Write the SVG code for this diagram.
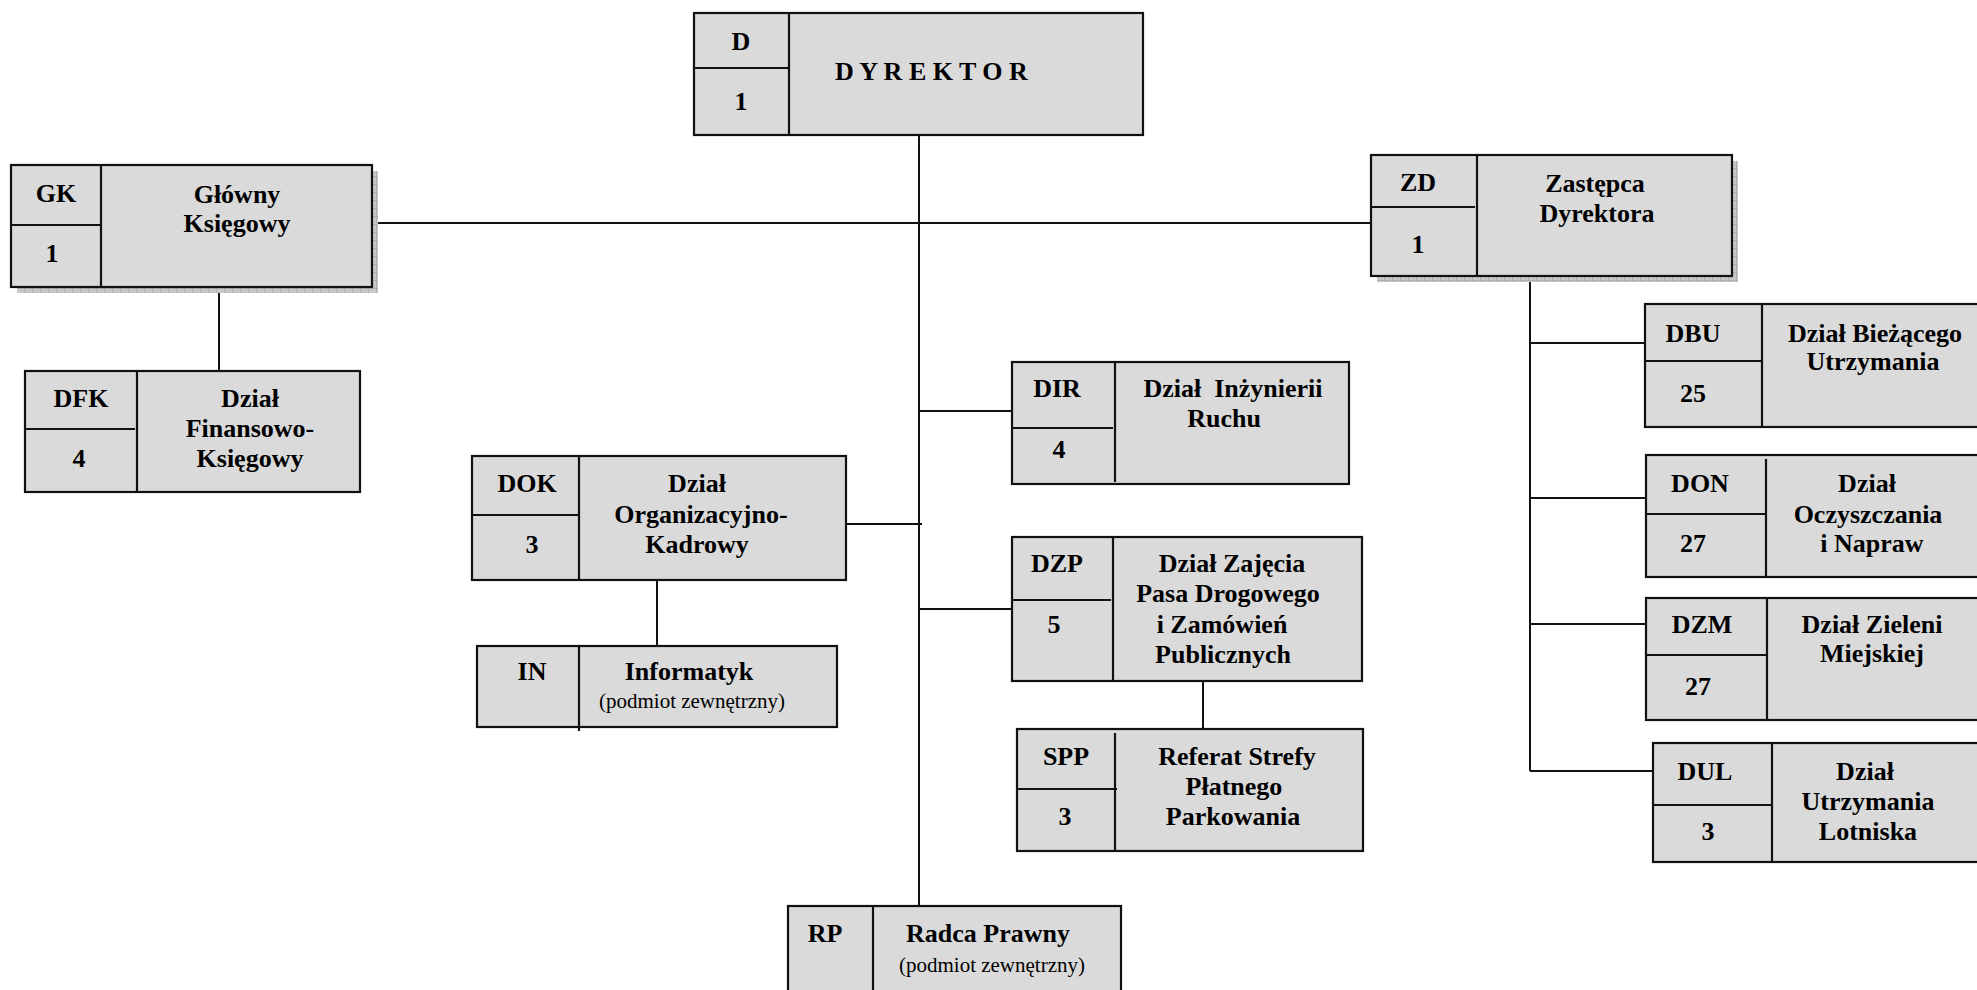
<svg xmlns="http://www.w3.org/2000/svg" width="1977" height="990" viewBox="0 0 1977 990">
<defs>
<pattern id="hatch" width="8" height="8" patternUnits="userSpaceOnUse">
<rect width="8" height="8" fill="#c8c8c8"/>
<path d="M0 0H8M0 0V8" stroke="#9a9a9a" stroke-width="1"/>
</pattern>
<style>
.box{fill:#dadada;stroke:#111;stroke-width:2.2}
.div{stroke:#111;stroke-width:2.2;fill:none}
.con{stroke:#111;stroke-width:2;fill:none}
.shadow{fill:url(#hatch)}
text{font-family:"Liberation Serif","Times New Roman",serif;font-weight:bold;font-size:26px;fill:#000;text-anchor:middle}
text.sub{font-weight:normal;font-size:21px}
</style>
</defs>
<rect width="1977" height="990" fill="#fff"/>

<g id="connectors">
<path class="con" d="M919 135V906"/>
<path class="con" d="M372 223H1371"/>
<path class="con" d="M919 411H1012"/>
<path class="con" d="M846 524H922"/>
<path class="con" d="M919 609H1012"/>
<path class="con" d="M219 287V371"/>
<path class="con" d="M657 580V646"/>
<path class="con" d="M1203 681V729"/>
<path class="con" d="M1530 272V771"/>
<path class="con" d="M1530 343H1645"/>
<path class="con" d="M1530 498H1646"/>
<path class="con" d="M1530 624H1646"/>
<path class="con" d="M1530 771H1653"/>
</g>

<g id="node-D">
<rect class="box" x="694" y="13" width="449" height="122"/>
<path class="div" d="M789 13V135M694 68H789"/>
<text x="741" y="50">D</text>
<text x="741" y="110">1</text>
<text x="835" y="80" style="text-anchor:start">D Y R E K T O R</text>
</g>

<g id="node-GK">
<rect class="shadow" x="17" y="171" width="361" height="122"/>
<rect class="box" x="11" y="165" width="361" height="122"/>
<path class="div" d="M101 165V287M11 225H101"/>
<text x="56" y="202">GK</text>
<text x="52" y="262">1</text>
<text x="237" y="203">Główny</text>
<text x="237" y="232">Księgowy</text>
</g>

<g id="node-DFK">
<rect class="box" x="25" y="371" width="335" height="121"/>
<path class="div" d="M137 371V492M25 429H135"/>
<text x="81" y="407">DFK</text>
<text x="79" y="467">4</text>
<text x="250" y="407">Dział</text>
<text x="250" y="437">Finansowo-</text>
<text x="250" y="467">Księgowy</text>
</g>

<g id="node-ZD">
<rect class="shadow" x="1377" y="161" width="361" height="121"/>
<rect class="box" x="1371" y="155" width="361" height="121"/>
<path class="div" d="M1477 155V276M1371 207H1475"/>
<text x="1418" y="191">ZD</text>
<text x="1418" y="253">1</text>
<text x="1595" y="192">Zastępca</text>
<text x="1597" y="222">Dyrektora</text>
</g>

<g id="node-DOK">
<rect class="box" x="472" y="456" width="374" height="124"/>
<path class="div" d="M579 456V580M472 515H579"/>
<text x="527" y="492">DOK</text>
<text x="532" y="553">3</text>
<text x="697" y="492">Dział</text>
<text x="701" y="523">Organizacyjno-</text>
<text x="697" y="553">Kadrowy</text>
</g>

<g id="node-IN">
<rect class="box" x="477" y="646" width="360" height="81"/>
<path class="div" d="M579 646V731"/>
<text x="532" y="680">IN</text>
<text x="689" y="680">Informatyk</text>
<text class="sub" x="692" y="708">(podmiot zewnętrzny)</text>
</g>

<g id="node-DIR">
<rect class="box" x="1012" y="362" width="337" height="122"/>
<path class="div" d="M1115 362V482M1012 428H1113"/>
<text x="1057" y="397">DIR</text>
<text x="1059" y="458">4</text>
<text x="1233" y="397" xml:space="preserve">Dział  Inżynierii</text>
<text x="1224" y="427">Ruchu</text>
</g>

<g id="node-DZP">
<rect class="box" x="1012" y="537" width="350" height="144"/>
<path class="div" d="M1113 537V681M1012 600H1111"/>
<text x="1057" y="572">DZP</text>
<text x="1054" y="633">5</text>
<text x="1232" y="572">Dział Zajęcia</text>
<text x="1228" y="602">Pasa Drogowego</text>
<text x="1222" y="633">i Zamówień</text>
<text x="1223" y="663">Publicznych</text>
</g>

<g id="node-SPP">
<rect class="box" x="1017" y="729" width="346" height="122"/>
<path class="div" d="M1115 733V851M1017 789H1117"/>
<text x="1066" y="765">SPP</text>
<text x="1065" y="825">3</text>
<text x="1237" y="765">Referat Strefy</text>
<text x="1234" y="795">Płatnego</text>
<text x="1233" y="825">Parkowania</text>
</g>

<g id="node-DBU">
<rect class="box" x="1645" y="304" width="345" height="123"/>
<path class="div" d="M1762 304V427M1645 361H1762"/>
<text x="1693" y="342">DBU</text>
<text x="1693" y="402">25</text>
<text x="1875" y="342">Dział Bieżącego</text>
<text x="1873" y="370">Utrzymania</text>
</g>

<g id="node-DON">
<rect class="box" x="1646" y="455" width="345" height="122"/>
<path class="div" d="M1766 459V577M1646 514H1766"/>
<text x="1700" y="492">DON</text>
<text x="1693" y="552">27</text>
<text x="1867" y="492">Dział</text>
<text x="1868" y="523">Oczyszczania</text>
<text x="1872" y="552">i Napraw</text>
</g>

<g id="node-DZM">
<rect class="box" x="1646" y="598" width="345" height="122"/>
<path class="div" d="M1767 598V720M1646 655H1767"/>
<text x="1702" y="633">DZM</text>
<text x="1698" y="695">27</text>
<text x="1872" y="633">Dział Zieleni</text>
<text x="1872" y="662">Miejskiej</text>
</g>

<g id="node-DUL">
<rect class="box" x="1653" y="743" width="340" height="119"/>
<path class="div" d="M1772 743V862M1653 805H1772"/>
<text x="1705" y="780">DUL</text>
<text x="1708" y="840">3</text>
<text x="1865" y="780">Dział</text>
<text x="1868" y="810">Utrzymania</text>
<text x="1868" y="840">Lotniska</text>
</g>

<g id="node-RP">
<rect class="box" x="788" y="906" width="333" height="100"/>
<path class="div" d="M873 906V995"/>
<text x="825" y="942">RP</text>
<text x="988" y="942">Radca Prawny</text>
<text class="sub" x="992" y="972">(podmiot zewnętrzny)</text>
</g>
</svg>
